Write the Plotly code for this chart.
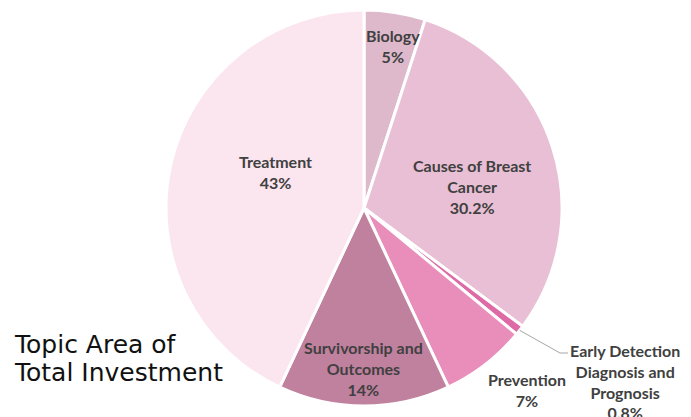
import numpy as np
import plotly.graph_objects as go

labels = ["Biology", "Causes of Breast Cancer", "Early Detection Diagnosis and Prognosis",
          "Prevention", "Survivorship and Outcomes", "Treatment"]
values = [5, 30.2, 0.8, 7, 14, 43]
value_text = ["5%", "30.2%", "0.8%", "7%", "14%", "43%"]
label_lines = ["Biology", "Causes of Breast<br>Cancer", "Early Detection<br>Diagnosis and<br>Prognosis",
               "Prevention", "Survivorship and<br>Outcomes", "Treatment"]
colors = ["#ddb9cb", "#e8bfd4", "#de6ba6", "#e98dbb", "#c0819f", "#fbe5ef"]

W, H = 691, 417
OFF = 8  # page body margin offset
cx, cy, R = 364 - OFF, 208 - OFF, 198

fig = go.Figure(go.Pie(
    labels=labels, values=values, sort=False, direction="clockwise", rotation=0,
    marker=dict(colors=colors, line=dict(color="white", width=3)),
    textinfo="none", hoverinfo="label+percent", showlegend=False,
    domain=dict(x=[(cx - R) / W, (cx + R) / W], y=[(H - cy - R) / H, (H - cy + R) / H]),
))

def px(x, y):
    return (x - OFF) / W, 1 - (y - OFF) / H

# label anchor points (window pixels) for each slice
label_pos = [(393, 46), (472, 186), (625, 381), (527, 390), (363, 368), (275, 172)]
font = dict(family="Lato", size=16, color="#404040")
for lab, val, (x, y) in zip(label_lines, value_text, label_pos):
    X, Y = px(x, y)
    fig.add_annotation(x=X, y=Y, xref="paper", yref="paper", showarrow=False,
                       text=f"<b>{lab}<br>{val}</b>", font=font, align="center",
                       xanchor="center", yanchor="middle")

# leader line for tiny slice
cum = np.cumsum([0] + values[:-1])
mid = (cum[2] + values[2] / 2) / sum(values) * 2 * np.pi
sx, sy = cx + R * np.sin(mid), cy - R * np.cos(mid)
pts = [(sx / W, 1 - sy / H), px(560, 353), px(568, 353)]
path = "M " + " L ".join(f"{p[0]},{p[1]}" for p in pts)
fig.add_shape(type="path", path=path, xref="paper", yref="paper",
              line=dict(color="#a6a6a6", width=1))

tfont = dict(family="DejaVu Sans", size=25, color="#111111")
for line, y in [("Topic Area of", 344), ("Total Investment", 372)]:
    X, Y = px(13, y)
    fig.add_annotation(x=X, y=Y, xref="paper", yref="paper", showarrow=False,
                       text=line, font=tfont, xanchor="left", yanchor="middle",
                       height=28, borderpad=0)

fig.update_layout(width=W, height=H, margin=dict(l=0, r=0, t=0, b=0),
                  paper_bgcolor="white", plot_bgcolor="white")
fig.write_html("out.html")
